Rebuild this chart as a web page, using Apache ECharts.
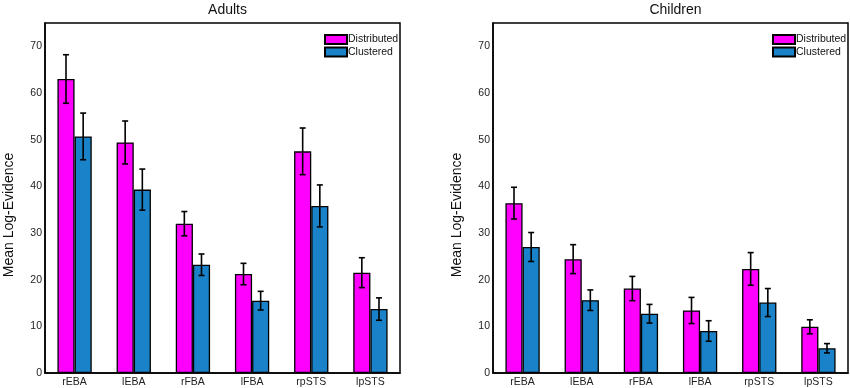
<!DOCTYPE html>
<html>
<head>
<meta charset="utf-8">
<script src="https://cdn.jsdelivr.net/npm/echarts@6/dist/echarts.min.js"></script>
<style>html,body{margin:0;padding:0;background:#fff;}#c{width:850px;height:388px;}</style>
</head>
<body>
<div id="c"></div>
<script>
const categories = ['rEBA', 'lEBA', 'rFBA', 'lFBA', 'rpSTS', 'lpSTS'];
const adultsDistributed = [63.0, 49.4, 32.0, 21.2, 47.5, 21.5];
const adultsDistributedErr = [5.2, 4.6, 2.6, 2.3, 5.0, 3.2];
const adultsClustered = [50.7, 39.3, 23.2, 15.5, 35.8, 13.7];
const adultsClusteredErr = [5.0, 4.4, 2.3, 2.0, 4.5, 2.4];
const childrenDistributed = [36.4, 24.4, 18.1, 13.4, 22.3, 9.9];
const childrenDistributedErr = [3.4, 3.1, 2.6, 2.8, 3.5, 1.5];
const childrenClustered = [27.0, 15.6, 12.7, 9.0, 15.1, 5.3];
const childrenClusteredErr = [3.1, 2.2, 2.0, 2.2, 3.0, 1.0];
const titles = ['Adults', 'Children'];
const seriesNames = ['Distributed', 'Clustered'];
const yAxisName = 'Mean Log-Evidence';

const colors = ['#ff00ff', '#1a82c8'];
const BAR_FRAC = 0.29;
const font = 'Liberation Sans, Arial, sans-serif';

function errSeries(means, errs, gi, sign) {
  return {
    type: 'custom',
    name: 'err' + gi + sign,
    xAxisIndex: gi, yAxisIndex: gi,
    z: 5,
    silent: true,
    data: means.map((m, i) => [i, m, errs[i]]),
    encode: {x: 0, y: 1},
    renderItem: function (params, api) {
      const idx = api.value(0), m = api.value(1), e = api.value(2);
      const band = api.size([1, 0])[0];
      const x = api.coord([idx, m])[0] + sign * band * BAR_FRAC / 2;
      const yt = api.coord([idx, m + e])[1];
      const yb = api.coord([idx, m - e])[1];
      const st = {stroke: '#000', lineWidth: 1.6};
      const cap = 3;
      return {type: 'group', children: [
        {type: 'line', shape: {x1: x, y1: yt, x2: x, y2: yb}, style: st},
        {type: 'line', shape: {x1: x - cap, y1: yt, x2: x + cap, y2: yt}, style: st},
        {type: 'line', shape: {x1: x - cap, y1: yb, x2: x + cap, y2: yb}, style: st}
      ]};
    }
  };
}

function barSeries(name, data, gi, ci) {
  return {
    type: 'bar', name: name, xAxisIndex: gi, yAxisIndex: gi,
    data: data, barWidth: (BAR_FRAC * 100) + '%', barGap: '0%',
    itemStyle: {color: colors[ci], borderColor: '#000', borderWidth: 1.3},
    emphasis: {disabled: true}
  };
}

const grids = [
  {left: 45, top: 23, width: 355, height: 350},
  {left: 493, top: 23, width: 355, height: 350}
];

const option = {
  animation: false,
  textStyle: {fontFamily: font},
  title: titles.map((t, i) => ({
    text: t, left: grids[i].left + grids[i].width / 2, top: -2, textAlign: 'center',
    textStyle: {fontFamily: font, fontSize: 14, fontWeight: 'normal', color: '#111'}
  })),
  legend: grids.map((g, i) => ({
    data: seriesNames, orient: 'vertical', left: g.left + g.width - 81, top: 29,
    itemWidth: 22, itemHeight: 9, itemGap: 1.4, icon: 'rect',
    textStyle: {fontFamily: font, fontSize: 10.5, color: '#111', padding: [0, 0, 0, -4], lineHeight: 11},
    selectedMode: false
  })),
  grid: grids.map(g => Object.assign({show: true, borderColor: '#000', borderWidth: 1.5, backgroundColor: 'transparent'}, g)),
  xAxis: grids.map((g, i) => ({
    type: 'category', gridIndex: i, data: categories,
    axisLine: {lineStyle: {color: '#000', width: 1.5}},
    axisTick: {show: false},
    axisLabel: {color: '#222', fontSize: 10.5, fontFamily: font, margin: 4}
  })),
  yAxis: grids.map((g, i) => ({
    type: 'value', gridIndex: i, min: 0, max: 75, interval: 10,
    name: yAxisName, nameLocation: 'middle', nameGap: 29,
    nameTextStyle: {fontFamily: font, fontSize: 14, color: '#111', padding: [0, 34, 0, 0]},
    axisLine: {show: true, lineStyle: {color: '#000', width: 1.5}},
    axisTick: {show: false},
    splitLine: {show: false},
    axisLabel: {color: '#222', fontSize: 10.5, fontFamily: font, margin: 3, showMaxLabel: false}
  })),
  series: [
    barSeries(seriesNames[0], adultsDistributed, 0, 0),
    barSeries(seriesNames[1], adultsClustered, 0, 1),
    errSeries(adultsDistributed, adultsDistributedErr, 0, -1),
    errSeries(adultsClustered, adultsClusteredErr, 0, 1),
    barSeries(seriesNames[0], childrenDistributed, 1, 0),
    barSeries(seriesNames[1], childrenClustered, 1, 1),
    errSeries(childrenDistributed, childrenDistributedErr, 1, -1),
    errSeries(childrenClustered, childrenClusteredErr, 1, 1)
  ]
};

const chart = echarts.init(document.getElementById('c'), null, {renderer: 'canvas'});
chart.setOption(option);
</script>
</body>
</html>
